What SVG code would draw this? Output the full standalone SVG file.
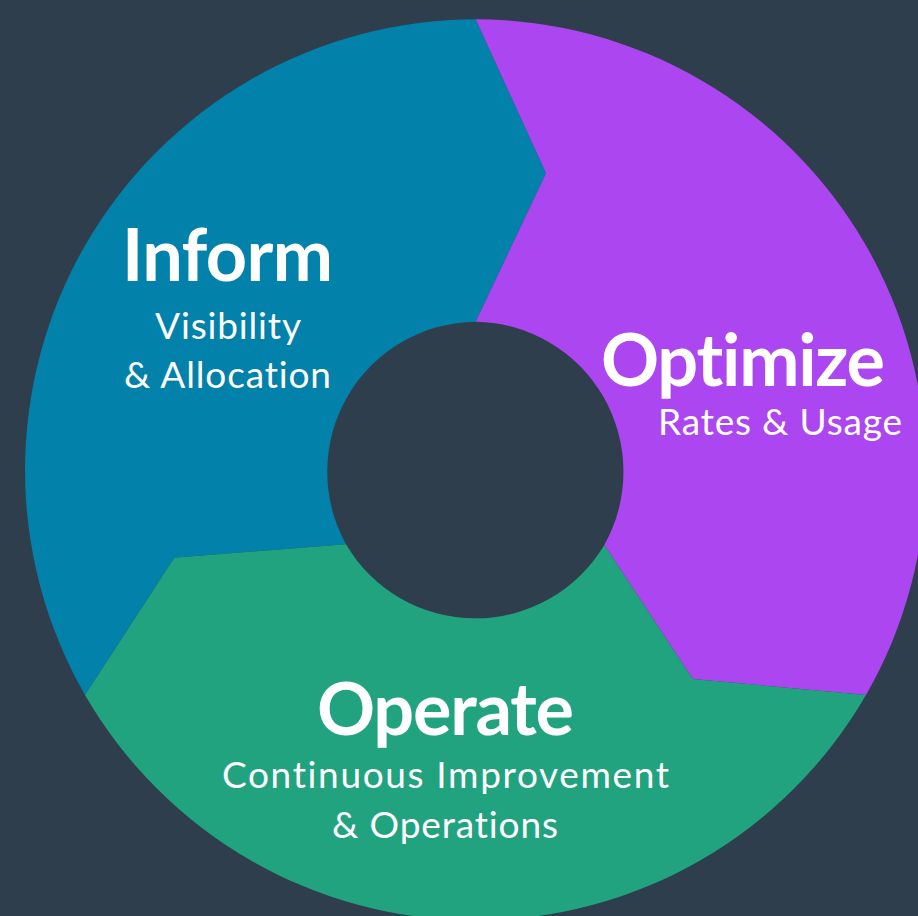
<svg xmlns="http://www.w3.org/2000/svg" width="918" height="916" viewBox="0 0 918 916">
  <style>
    text { font-family: Lato, "Open Sans", "Liberation Sans", sans-serif; fill: #ffffff; font-variant-ligatures: none; font-feature-settings: "liga" 0, "clig" 0; }
    .title { font-weight: 700; font-size: 72px; }
    .sub { font-weight: 400; font-size: 37px; }
  </style>
  <rect x="0" y="0" width="918" height="916" fill="#2e3e4d"/>
  <g id="inform">
    <path d="M 475.7 19.3 A 451 451 0 0 0 85 695 L 174.3 557.7 L 346 544.3 A 150 150 0 0 1 475.7 321.7 L 546 173.3 Z" fill="#0281ab"/>
    <text class="title" x="122" y="281" textLength="211" lengthAdjust="spacing">Inform</text>
    <text class="sub" x="155" y="339.3" textLength="146" lengthAdjust="spacing">Visibility</text>
    <text class="sub" x="124" y="388.3" textLength="207" lengthAdjust="spacing">&amp; Allocation</text>
  </g>
  <g id="optimize">
    <path d="M 475.7 19.3 A 451 451 0 0 1 866 695 L 692.7 679 L 604.3 545 A 150 150 0 0 0 475.7 321.7 L 546 173.3 Z" fill="#ac46f0"/>
    <text class="title" x="601" y="386" textLength="284" lengthAdjust="spacing">Optimize</text>
    <text class="sub" x="658" y="435" textLength="244" lengthAdjust="spacing">Rates &amp; Usage</text>
  </g>
  <g id="operate">
    <path d="M 866 695 A 451 451 0 0 1 85 695 L 174.3 557.7 L 346 544.3 A 150 150 0 0 0 604.3 545 L 692.7 679 Z" fill="#22a380"/>
    <text class="title" x="317" y="735" textLength="257" lengthAdjust="spacing">Operate</text>
    <text class="sub" x="222" y="788.3" textLength="447" lengthAdjust="spacing">Continuous Improvement</text>
    <text class="sub" x="332" y="838" textLength="226" lengthAdjust="spacing">&amp; Operations</text>
  </g>
  <g id="connectors"></g>
</svg>
